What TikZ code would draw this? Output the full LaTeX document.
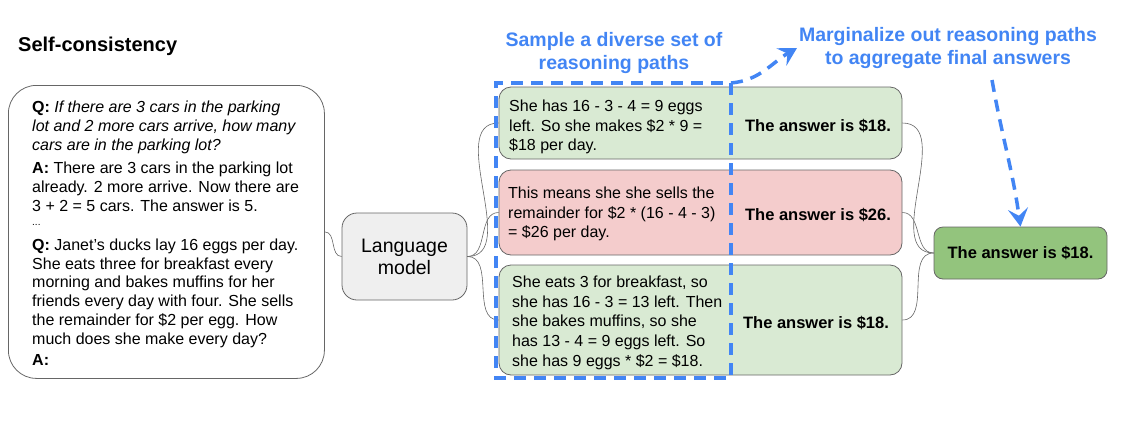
\documentclass[tikz,border=0pt]{standalone}
\usepackage{fontspec}
\setmainfont{Liberation Sans}
\usetikzlibrary{arrows.meta}
\definecolor{gblue}{HTML}{4285F4}
\definecolor{lgreen}{HTML}{D9EAD3}
\definecolor{lred}{HTML}{F4CCCC}
\definecolor{dgreen}{HTML}{93C47D}
\definecolor{lgray}{HTML}{EFEFEF}
\definecolor{edgegray}{HTML}{666666}
\begin{document}
\begin{tikzpicture}[x=1pt,y=1pt,
  box/.style={draw=edgegray, line width=0.8pt, rounded corners=12pt, inner sep=0pt},
  body/.style={font=\fontsize{16}{19.6}\selectfont, align=left, inner sep=0pt, anchor=north west},
  pbody/.style={body, font=\fontsize{16}{18.8}\selectfont},
  ans/.style={font=\bfseries\fontsize{16.5}{20}\selectfont, inner sep=0pt},
  link/.style={draw=edgegray, line width=0.6pt},
  bluedash/.style={draw=gblue, line width=3.5pt, dash pattern=on 12pt off 8pt},
  bluetip/.style={-{Stealth[length=18pt,width=20pt,inset=7pt]}},
  bluehead/.style={text=gblue, font=\bfseries\fontsize{19.5}{23}\selectfont, align=center, inner sep=0pt}
]
\useasboundingbox (0,0) rectangle (1128,-421);

% title
\node[anchor=base west, inner sep=0pt, font=\bfseries\fontsize{20}{24}\selectfont] (title) at (18,-51) {Self-consistency};

% prompt box
\node[box, rounded corners=28pt, minimum width=316pt, minimum height=293pt, anchor=north west] (prompt) at (8,-85) {};
\node[pbody] (p1) at (32,-101) {\textbf{Q:} \textit{If there are 3 cars in the parking}\\\textit{lot and 2 more cars arrive, how many}\\\textit{cars are in the parking lot?}};
\node[pbody] (p2) at (32,-162) {\textbf{A:} There are 3 cars in the parking lot\\already. 2 more arrive. Now there are\\3 + 2 = 5 cars. The answer is 5.};
\node[anchor=base west, inner sep=0pt, font=\fontsize{10}{12}\selectfont] (p3) at (32,-225) {...};
\node[pbody] (p4) at (32,-238.5) {\textbf{Q:} Janet’s ducks lay 16 eggs per day.\\She eats three for breakfast every\\morning and bakes muffins for her\\friends every day with four. She sells\\the remainder for \$2 per egg. How\\much does she make every day?};
\node[pbody] (p5) at (32,-354) {\textbf{A:}};

% language model
\node[box, fill=lgray, rounded corners=15pt, minimum width=125pt, minimum height=87pt, align=center, font=\fontsize{19.5}{22}\selectfont] (lm) at (404.5,-256.5) {Language\\model};

% reasoning boxes
\node[box, fill=lgreen, minimum width=403pt, minimum height=72pt] (r1) at (700.5,-123) {};
\node[box, fill=lred, minimum width=403pt, minimum height=85pt] (r2) at (700.5,-212.5) {};
\node[box, fill=lgreen, minimum width=403pt, minimum height=110pt] (r3) at (700.5,-320) {};

\node[body] (t1) at (509,-100) {She has 16 - 3 - 4 = 9 eggs\\left. So she makes \$2 * 9 =\\\$18 per day.};
\node[body] (t2) at (508,-187) {This means she she sells the\\remainder for \$2 * (16 - 4 - 3)\\= \$26 per day.};
\node[body] (t3) at (512,-276) {She eats 3 for breakfast, so\\she has 16 - 3 = 13 left. Then\\she bakes muffins, so she\\has 13 - 4 = 9 eggs left. So\\she has 9 eggs * \$2 = \$18.};

\node[ans] (a1) at (818,-126) {The answer is \$18.};
\node[ans] (a2) at (818,-215) {The answer is \$26.};
\node[ans] (a3) at (816,-323) {The answer is \$18.};

% final answer
\node[box, fill=dgreen, rounded corners=9pt, minimum width=173pt, minimum height=52pt, font=\bfseries\fontsize{16.5}{20}\selectfont] (final) at (1020.5,-253) {The answer is \$18.};

% connectors
\draw[link] (prompt.east) to[out=0,in=180] (lm.west);
\draw[link] (lm.east) to[out=0,in=180] (r1.west);
\draw[link] (lm.east) to[out=0,in=180] (r2.west);
\draw[link] (lm.east) to[out=0,in=180] (r3.west);
\draw[link] (r1.east) to[out=0,in=180] (final.west);
\draw[link] (r2.east) to[out=0,in=180] (final.west);
\draw[link] (r3.east) to[out=0,in=180] (final.west);

% blue headings
\node[bluehead] (samp) at (614,-53) {Sample a diverse set of\\reasoning paths};
\node[bluehead] (marg) at (948,-47.5) {Marginalize out reasoning paths\\to aggregate final answers};

% blue dashed region and arrows
\coordinate (dtr) at (731,-83);
\coordinate (dbr) at (731,-378);
\coordinate (dbl) at (496,-378);
\coordinate (dtl) at (496,-83);
\coordinate (tip1) at (797,-48);
\coordinate (mstart) at (992,-80);
\draw[bluedash] (dtr) -- (dbr) -- (dbl) -- (dtl) -- (dtr);
\draw[bluedash, bluetip] (dtr) to[out=5,in=210] (tip1);
\draw[bluedash, bluetip] (mstart) to[out=-80,in=98] (final.north);
\end{tikzpicture}
\end{document}
